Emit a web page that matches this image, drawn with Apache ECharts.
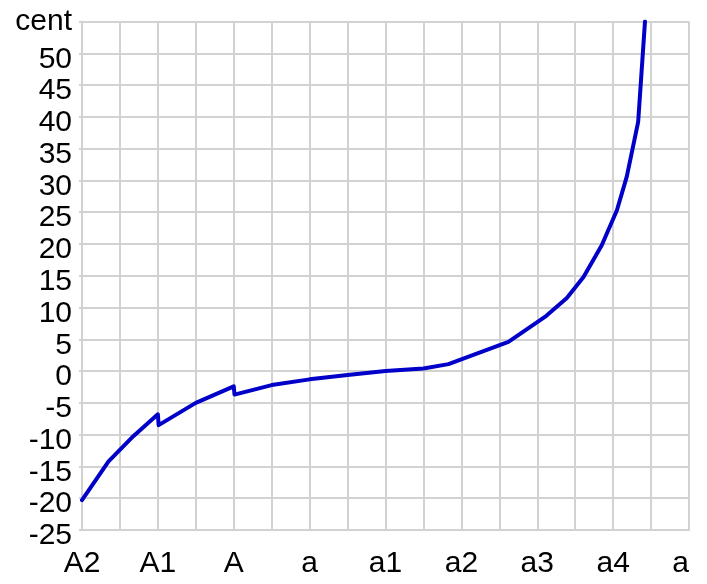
<!DOCTYPE html>
<html>
<head>
<meta charset="utf-8">
<script src="https://cdn.jsdelivr.net/npm/echarts@6/dist/echarts.min.js"></script>
<style>
  html, body { margin: 0; padding: 0; background: #ffffff; }
  #chart { width: 707px; height: 584px; }
</style>
</head>
<body>
<div id="chart"></div>
<script>
// Octave labels along the x axis (one per octave, Helmholtz notation)
const noteLabels = ['A2', 'A1', 'A', 'a', 'a1', 'a2', 'a3', 'a4', 'a'];
// Curve samples: position in octaves above A2, deviation in cents
const octavePos = [0, 0.35, 0.68, 1.0, 1.01, 1.5, 2.0, 2.01, 2.5, 3.0, 3.5, 4.0, 4.5, 4.83, 5.62, 6.12, 6.39, 6.61, 6.85, 7.05, 7.18, 7.33, 7.42];
const cents = [-20.3, -14.2, -10.2, -6.8, -8.5, -5.0, -2.4, -3.7, -2.2, -1.3, -0.6, 0.0, 0.4, 1.1, 4.6, 8.7, 11.5, 14.8, 19.8, 25.3, 30.6, 39.2, 55];
// Y axis range and the unit label shown at the top tick
const yMin = -25, yMax = 55, yStep = 5;
const unitLabel = 'cent';

const font = '"Liberation Sans", Arial, sans-serif';
const gridColor = '#d2d2d2';

const chart = echarts.init(document.getElementById('chart'), null, { renderer: 'canvas' });
chart.setOption({
  animation: false,
  backgroundColor: '#ffffff',
  grid: { left: 82, right: 18, top: 21.5, bottom: 54, containLabel: false },
  xAxis: {
    type: 'value',
    min: 0,
    max: noteLabels.length - 1,
    interval: 0.5,
    axisLine: { show: true, onZero: false, lineStyle: { color: gridColor, width: 2 } },
    axisTick: { show: false },
    splitLine: { show: true, lineStyle: { color: gridColor, width: 2 } },
    axisLabel: {
      show: true,
      margin: 19,
      color: '#000000',
      fontSize: 30,
      fontFamily: font,
      alignMaxLabel: 'right',
      formatter: function (v) {
        return Number.isInteger(v) ? noteLabels[v] : '';
      }
    }
  },
  yAxis: {
    type: 'value',
    min: yMin,
    max: yMax,
    interval: yStep,
    axisLine: { show: true, lineStyle: { color: gridColor, width: 2 } },
    axisTick: { show: true, length: 3, lineStyle: { color: gridColor, width: 2 } },
    splitLine: { show: true, lineStyle: { color: gridColor, width: 2 } },
    axisLabel: {
      margin: 10,
      color: '#000000',
      fontSize: 30,
      fontFamily: font,
      formatter: function (v) {
        return v === yMax ? '{u|' + unitLabel + '}' : '{n|' + v + '}';
      },
      rich: {
        u: { fontSize: 30, fontFamily: font, color: '#000000' },
        n: { fontSize: 30, fontFamily: font, color: '#000000', padding: [12, 0, 0, 0] }
      }
    }
  },
  series: [{
    type: 'line',
    data: octavePos.map((x, i) => [x, cents[i]]),
    showSymbol: false,
    smooth: false,
    lineStyle: { color: '#0000c8', width: 4, join: 'round', cap: 'round' },
    z: 5
  }]
});
</script>
</body>
</html>
